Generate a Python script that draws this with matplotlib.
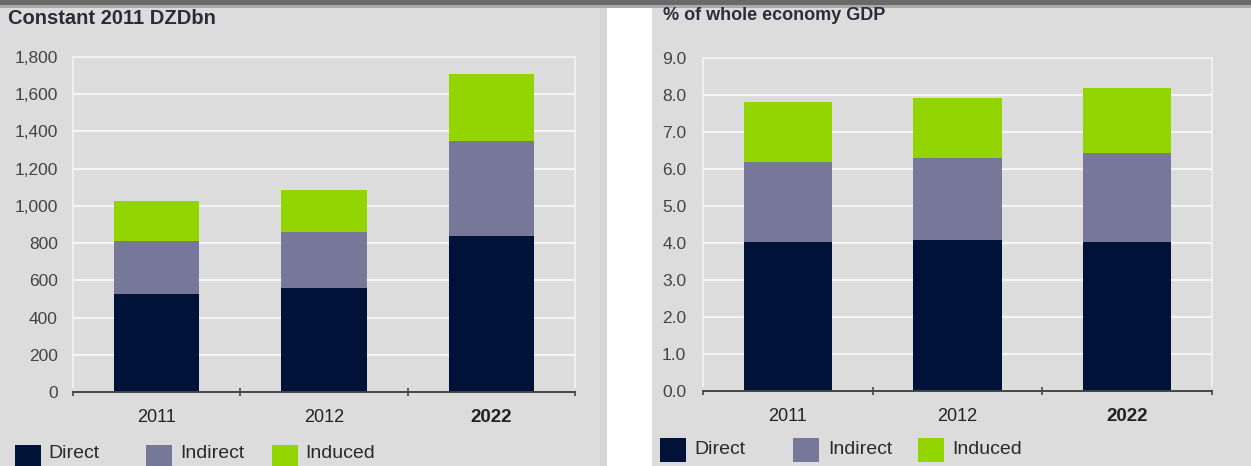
import matplotlib
matplotlib.use("Agg")
import matplotlib.pyplot as plt
from matplotlib.patches import Rectangle
import numpy as np

plt.rcParams['font.family'] = ['Liberation Sans', 'DejaVu Sans']

categories = ["2011", "2012", "2022"]
series = ["Direct", "Indirect", "Induced"]
colors = ["#001238", "#77779a", "#93d500"]

# Left chart: Constant 2011 DZDbn
left_direct = [525, 560, 840]
left_indirect = [285, 300, 510]
left_induced = [215, 225, 360]
left_ticks = [0, 200, 400, 600, 800, 1000, 1200, 1400, 1600, 1800]
left_ticklabels = ["0", "200", "400", "600", "800", "1,000", "1,200", "1,400", "1,600", "1,800"]

# Right chart: % of whole economy GDP
right_direct = [4.03, 4.08, 4.03]
right_indirect = [2.16, 2.22, 2.40]
right_induced = [1.62, 1.62, 1.76]
right_ticks = [0, 1, 2, 3, 4, 5, 6, 7, 8, 9]
right_ticklabels = ["0.0", "1.0", "2.0", "3.0", "4.0", "5.0", "6.0", "7.0", "8.0", "9.0"]

W, H = 1251, 466
fig = plt.figure(figsize=(W / 100, H / 100), dpi=100)
fig.patch.set_facecolor("white")

PANEL = "#dcdcdc"

def px_rect(x0, y0, x1, y1, color, z=0):
    fig.add_artist(Rectangle((x0 / W, 1 - y1 / H), (x1 - x0) / W, (y1 - y0) / H,
                             transform=fig.transFigure, facecolor=color,
                             edgecolor="none", zorder=z))

# backgrounds
px_rect(0, 0, 607, H, PANEL, -10)
px_rect(600, 0, 607, H, "#d6d6d6", -9)
px_rect(652, 0, W, H, PANEL, -10)
px_rect(0, 0, W, 5, "#6a6a6a", -5)
px_rect(0, 5, W, 8, "#a8a8a8", -5)

def make_axes(x0, y0, x1, y1):
    return fig.add_axes([x0 / W, 1 - y1 / H, (x1 - x0) / W, (y1 - y0) / H])

def draw(ax, data, ticks, ticklabels, ymax, width, ypad):
    x = np.arange(len(categories))
    bottom = np.zeros(len(categories))
    for vals, c in zip(data, colors):
        ax.bar(x, vals, width=width, bottom=bottom, color=c, zorder=3, linewidth=0)
        bottom = bottom + np.array(vals)
    ax.set_facecolor(PANEL)
    ax.set_xlim(-0.5, len(categories) - 0.5)
    ax.set_ylim(0, ymax)
    ax.set_yticks(ticks)
    ax.set_yticklabels(ticklabels)
    ax.yaxis.grid(True, color="#f4f4f4", linewidth=1.6, zorder=0)
    ax.set_axisbelow(True)
    ax.tick_params(axis="y", length=0, pad=ypad, labelsize=12.5, labelcolor="#444444")
    # category boundary ticks
    ax.set_xticks(np.arange(len(categories) + 1) - 0.5)
    ax.set_xticklabels([])
    ax.set_xticks(x, minor=True)
    ax.set_xticklabels(categories, minor=True)
    ax.tick_params(axis="x", which="major", direction="inout", length=6, width=1.2, color="#444444")
    ax.tick_params(axis="x", which="minor", length=0, pad=12, labelsize=13, labelcolor="#222222")
    for lab in ax.get_xticklabels(minor=True):
        if lab.get_text() == "2022":
            lab.set_fontweight("bold")
            lab.set_fontsize(13.5)
    for s in ["left", "right", "top"]:
        ax.spines[s].set_color("#f4f4f4")
        ax.spines[s].set_linewidth(1.2)
    ax.spines["bottom"].set_color("#444444")
    ax.spines["bottom"].set_linewidth(1.4)
    ax.spines["bottom"].set_zorder(4)

axL = make_axes(73, 57, 575, 392)
draw(axL, [left_direct, left_indirect, left_induced], left_ticks, left_ticklabels, 1800, 0.51, 11)

axR = make_axes(703, 58, 1212, 391)
draw(axR, [right_direct, right_indirect, right_induced], right_ticks, right_ticklabels, 9, 0.52, 12)

# titles
fig.text(8 / W, 1 - 18 / H, "Constant 2011 DZDbn", fontsize=14.5, fontweight="bold",
         color="#2b2b3b", va="center", ha="left")
fig.text(663 / W, 1 - 16 / H, "% of whole economy GDP", fontsize=13, fontweight="bold",
         color="#2b2b3b", va="center", ha="left")

# legends
def legend(xs_box, xs_text, y0, y1, ytext):
    for lab, c, xb, xt in zip(series, colors, xs_box, xs_text):
        px_rect(xb, y0, xb + 26, y1, c, 5)
        fig.text(xt / W, 1 - ytext / H, lab, fontsize=14, color="#2a2a2a",
                 va="center", ha="left")

legend([15, 146, 272], [48, 180, 305], 445, 470, 453)
legend([660, 793, 918], [694, 828, 952], 438, 462, 450)

fig.savefig("out.png", dpi=100, facecolor=fig.get_facecolor())
